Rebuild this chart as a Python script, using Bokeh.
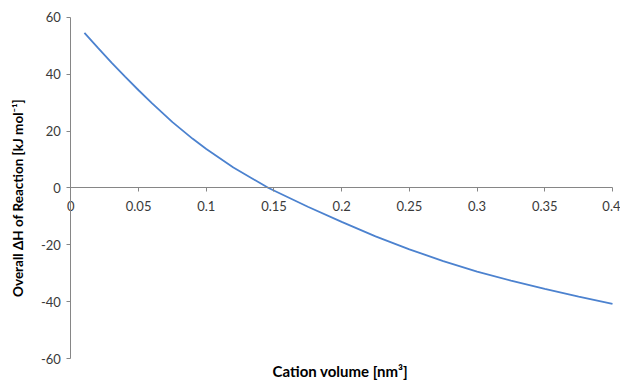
import math
from bokeh.plotting import figure
from bokeh.models import Range1d, FixedTicker, Label
from bokeh.embed import file_html
from bokeh.resources import INLINE

cation_volume = [0.01, 0.02, 0.03, 0.04, 0.05, 0.06, 0.075, 0.09, 0.1, 0.12, 0.146,
                 0.175, 0.2, 0.225, 0.25, 0.275, 0.3, 0.325, 0.35, 0.375, 0.4]
delta_h = [54.6, 49.3, 44.1, 39.2, 34.4, 29.8, 23.2, 17.3, 13.7, 7.2, 0.0,
           -6.6, -11.9, -17.0, -21.6, -25.7, -29.4, -32.6, -35.5, -38.2, -40.8]

x_ticks = [0, 0.05, 0.1, 0.15, 0.2, 0.25, 0.3, 0.35, 0.4]
x_tick_labels = ["0", "0.05", "0.1", "0.15", "0.2", "0.25", "0.3", "0.35", "0.4"]
y_ticks = [-60, -40, -20, 0, 20, 40, 60]
y_tick_labels = ["-60", "-40", "-20", "0", "20", "40", "60"]
x_title = "Cation volume [nm\u00b3]"
y_title = "Overall \u0394H of Reaction [kJ mol\u207b\u00b9]"

FONT = "Lato"
AXIS_COLOR = "#868686"
TEXT_COLOR = "#3a3a3a"

p = figure(width=620, height=380, output_backend="svg", toolbar_location=None,
           x_range=Range1d(-0.05199, 0.40591), y_range=Range1d(-67.74, 65.98),
           min_border=0)
p.outline_line_color = None
p.grid.visible = False

p.line(cation_volume, delta_h, line_color="#4C82CF", line_width=1.8)

xa = p.xaxis[0]
xa.fixed_location = 0
xa.bounds = (0, 0.4)
xa.ticker = FixedTicker(ticks=x_ticks)
xa.major_label_overrides = {t: l for t, l in zip(x_ticks, x_tick_labels)}
xa.axis_line_color = AXIS_COLOR
xa.major_tick_line_color = AXIS_COLOR
xa.major_tick_out = 4
xa.major_tick_in = 0
xa.minor_tick_line_color = None
xa.major_label_text_font = FONT
xa.major_label_text_font_size = "13px"
xa.major_label_text_color = TEXT_COLOR
xa.major_label_standoff = 9

ya = p.yaxis[0]
ya.fixed_location = 0
ya.bounds = (-60, 60)
ya.ticker = FixedTicker(ticks=y_ticks)
ya.major_label_overrides = {t: l for t, l in zip(y_ticks, y_tick_labels)}
ya.axis_line_color = AXIS_COLOR
ya.major_tick_line_color = AXIS_COLOR
ya.major_tick_out = 4
ya.major_tick_in = 0
ya.minor_tick_line_color = None
ya.major_label_text_font = FONT
ya.major_label_text_font_size = "13px"
ya.major_label_text_color = TEXT_COLOR
ya.major_label_standoff = 6

p.add_layout(Label(x=0.199, y=-64.4, text=x_title, text_align="center",
                   text_baseline="middle", text_font=FONT, text_font_style="bold",
                   text_font_size="15px", text_color="#000000"))
p.add_layout(Label(x=-0.0387, y=-3.5, text=y_title, angle=math.pi / 2,
                   text_align="center", text_baseline="middle", text_font=FONT,
                   text_font_style="bold", text_font_size="13.5px", text_color="#000000"))

open("out.html", "w").write(file_html(p, INLINE))
